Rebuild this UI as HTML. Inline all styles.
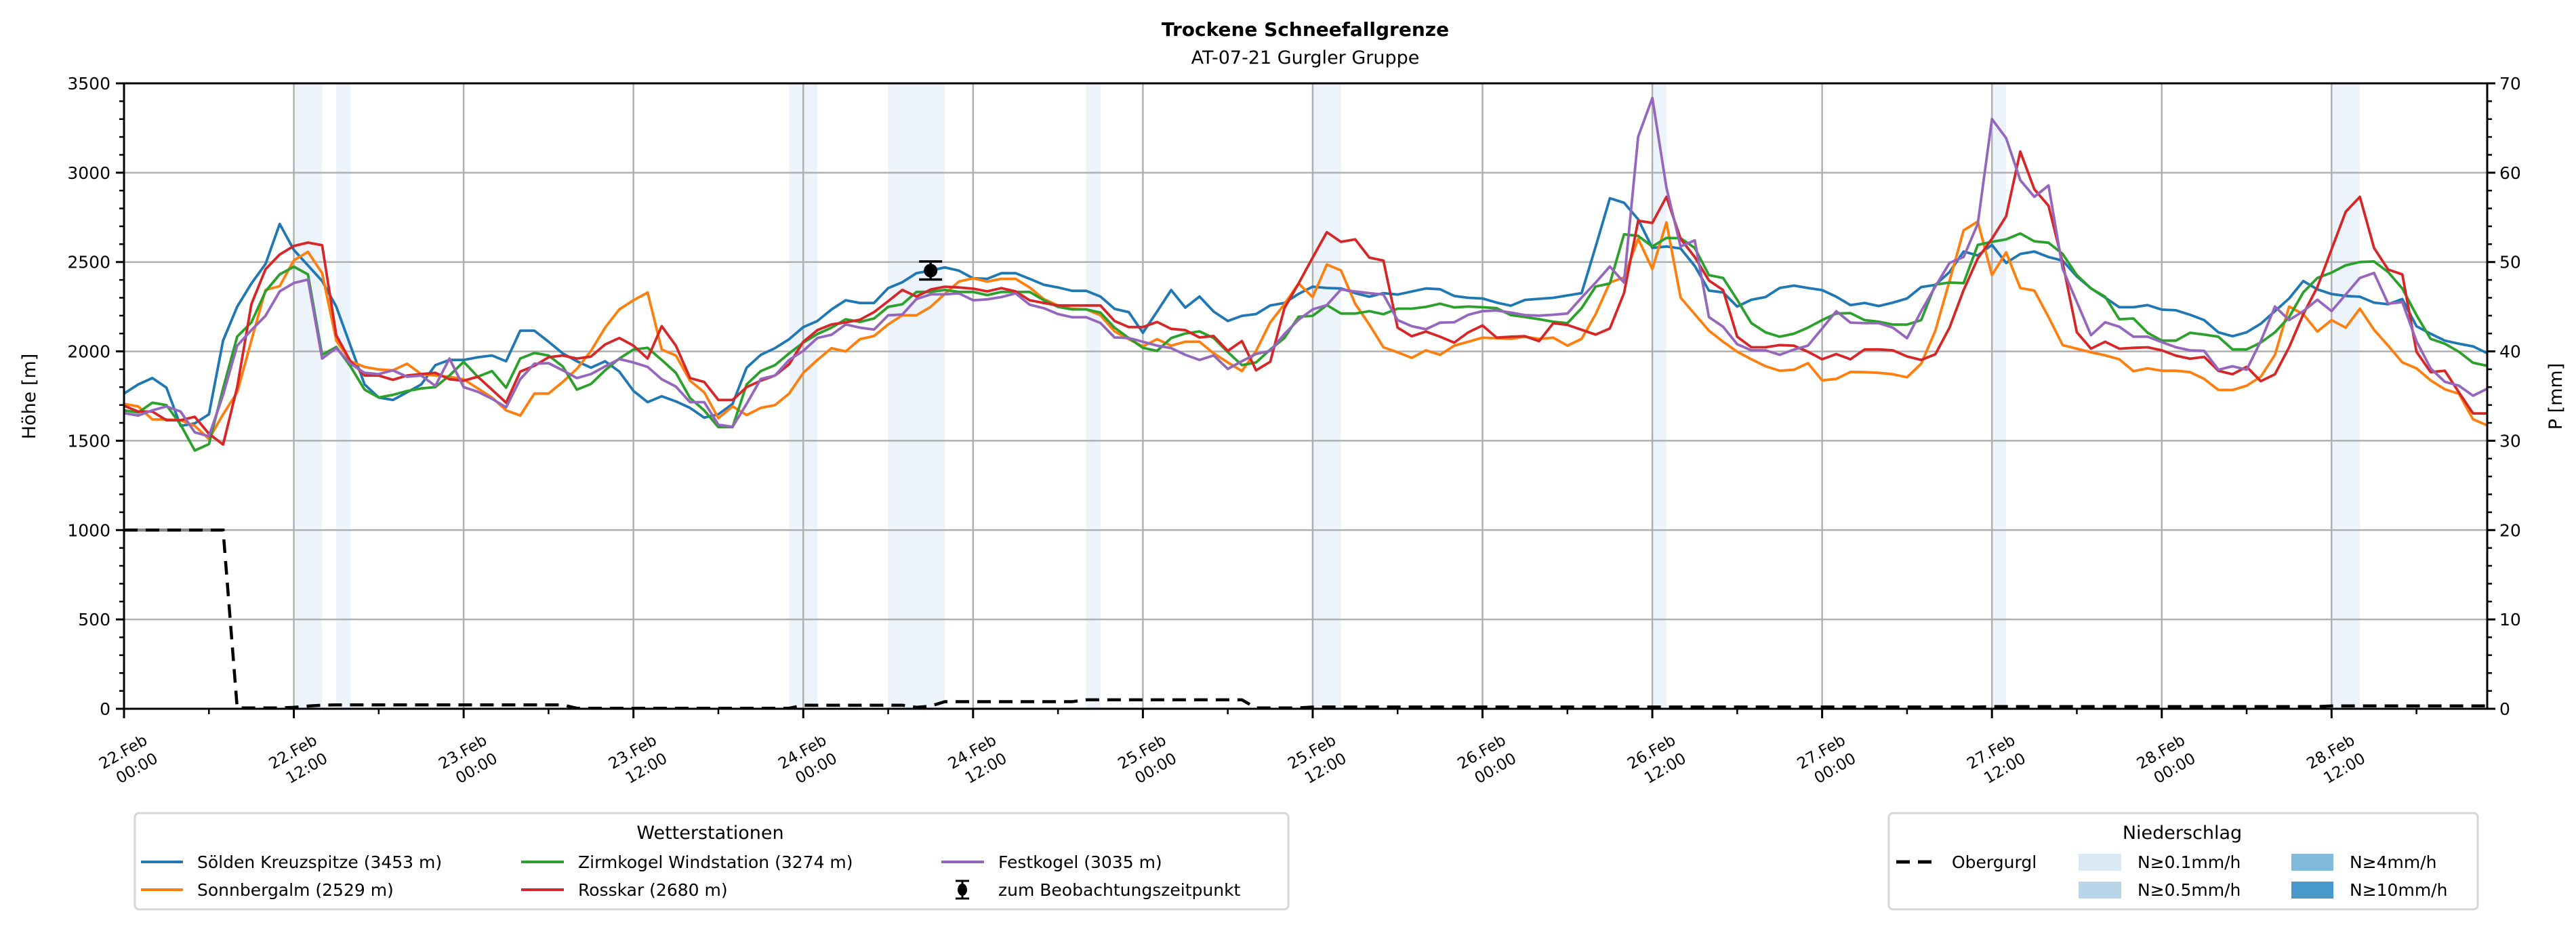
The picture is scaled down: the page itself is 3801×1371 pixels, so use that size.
<!DOCTYPE html>
<html><head><meta charset="utf-8"><style>
html,body{margin:0;padding:0;background:#fff;}
svg{display:block;font-family:"DejaVu Sans","Liberation Sans",sans-serif;}
</style></head><body>
<svg id="chart" width="3801" height="1371" viewBox="0 0 3801 1371" xmlns="http://www.w3.org/2000/svg">
<rect width="3801" height="1371" fill="#fff"/>
<text x="1926" y="53" text-anchor="middle" font-size="28" font-weight="bold">Trockene Schneefallgrenze</text>
<text x="1926" y="94" text-anchor="middle" font-size="27">AT-07-21 Gurgler Gruppe</text>
<g id="shade"></g>
<g id="grid"></g>
<g id="series"></g>
<g id="axes"></g>
<text transform="translate(52,585) rotate(-90)" text-anchor="middle" font-size="27">Höhe [m]</text>
<text transform="translate(3780,585) rotate(-90)" text-anchor="middle" font-size="27">P [mm]</text>

<g>
<rect x="199" y="1200" width="1702" height="142" rx="6" fill="#fff" stroke="#d6d6d6" stroke-width="3"/>
<text x="1048" y="1238" text-anchor="middle" font-size="27">Wetterstationen</text>
<g><line x1="208" y1="1272" x2="270" y2="1272" stroke="#1f77b4" stroke-width="4"/><text x="291" y="1281" font-size="25">Sölden Kreuzspitze (3453 m)</text></g>
<g><line x1="208" y1="1313" x2="270" y2="1313" stroke="#ff7f0e" stroke-width="4"/><text x="291" y="1322" font-size="25">Sonnbergalm (2529 m)</text></g>
<g><line x1="769" y1="1272" x2="832" y2="1272" stroke="#2ca02c" stroke-width="4"/><text x="853" y="1281" font-size="25">Zirmkogel Windstation (3274 m)</text></g>
<g><line x1="769" y1="1313" x2="832" y2="1313" stroke="#d62728" stroke-width="4"/><text x="853" y="1322" font-size="25">Rosskar (2680 m)</text></g>
<g><line x1="1389" y1="1272" x2="1452" y2="1272" stroke="#9467bd" stroke-width="4"/><text x="1473" y="1281" font-size="25">Festkogel (3035 m)</text></g>
<g><line x1="1420" y1="1300" x2="1420" y2="1326" stroke="#000" stroke-width="3"/><line x1="1410" y1="1300" x2="1430" y2="1300" stroke="#000" stroke-width="3"/><line x1="1410" y1="1326" x2="1430" y2="1326" stroke="#000" stroke-width="3"/><ellipse cx="1420" cy="1313" rx="7" ry="9"/><text x="1473" y="1322" font-size="25">zum Beobachtungszeitpunkt</text></g>
</g>

<g>
<rect x="2787" y="1200" width="869" height="142" rx="6" fill="#fff" stroke="#d6d6d6" stroke-width="3"/>
<text x="3220" y="1238" text-anchor="middle" font-size="27">Niederschlag</text>
<g><line x1="2798" y1="1272" x2="2856" y2="1272" stroke="#000" stroke-width="5" stroke-dasharray="20,12"/><text x="2880" y="1281" font-size="25">Obergurgl</text></g>
<g><rect x="3067" y="1260" width="63" height="25" fill="#d9e8f5"/><text x="3154" y="1281" font-size="25">N≥0.1mm/h</text></g>
<g><rect x="3067" y="1301" width="63" height="25" fill="#b9d5ea"/><text x="3154" y="1322" font-size="25">N≥0.5mm/h</text></g>
<g><rect x="3381" y="1260" width="62" height="25" fill="#82badb"/><text x="3467" y="1281" font-size="25">N≥4mm/h</text></g>
<g><rect x="3381" y="1301" width="62" height="25" fill="#4a98c9"/><text x="3467" y="1322" font-size="25">N≥10mm/h</text></g>
</g>
</svg>
<script>
const soelden = [1764,1815,1851,1797,1583,1597,1648,2061,2250,2380,2489,2713,2568,2481,2394,2250,2032,1815,1742,1728,1771,1815,1923,1952,1952,1967,1977,1945,2116,2116,2054,1989,1945,1909,1945,1887,1779,1716,1749,1720,1684,1629,
1648,1706,1909,1981,2018,2068,2136,2170,2235,2286,2271,2271,2354,2387,2438,2452,2470,2452,2409,2406,2438,2438,2406,2373,2358,2339,2339,2307,2238,2220,2104,2223,2343,2245,2307,2223,2170,2199,2209,2257,2271,2322,2362,
2355,2352,2326,2306,2326,2318,2335,2352,2348,2310,2300,2296,2273,2256,2288,2294,2300,2313,2326,2587,2857,2832,2739,2579,2587,2576,2478,2340,2330,2251,2289,2304,2355,2368,2355,2343,2306,2259,2271,2254,
2273,2296,2360,2372,2444,2559,2537,2596,2495,2545,2559,2528,2508,2419,2352,2301,2247,2247,2259,2234,2230,2205,2175,2107,2085,2107,2155,2225,2296,2394,2347,2321,2310,2306,2273,2264,2293,2141,2099,2060,2043,2028,1990];
const sonnbergalm = [1706,1692,1619,1619,1615,1583,1510,1648,1771,2061,2344,2365,2510,2557,2438,2061,1945,1913,1899,1894,1931,1873,1865,1858,1844,1793,1742,1670,1641,1764,1764,1829,1902,2003,2133,2235,2286,2329,2010,1977,1836,1771,
1626,1692,1644,1684,1699,1764,1880,1952,2018,2000,2068,2086,2151,2202,2202,2249,2322,2391,2409,2391,2406,2406,2358,2293,2257,2238,2235,2202,2112,2068,2028,2068,2032,2054,2054,1989,1938,1890,2003,2162,2264,2380,2304,
2486,2453,2267,2150,2023,1995,1964,2006,1981,2032,2054,2077,2074,2070,2082,2070,2077,2032,2070,2208,2385,2414,2630,2461,2722,2301,2208,2116,2054,1998,1956,1917,1892,1897,1934,1838,1846,1885,1884,1880,
1872,1855,1931,2116,2394,2677,2727,2427,2554,2355,2340,2192,2035,2015,1995,1978,1956,1889,1905,1892,1892,1884,1846,1784,1784,1808,1858,1981,2251,2208,2111,2175,2133,2239,2121,2032,1939,1905,1838,1788,1763,1620,1586];
const zirmkogel = [1670,1658,1713,1699,1590,1445,1481,1793,2083,2162,2336,2431,2474,2431,1981,2025,1916,1786,1742,1757,1778,1793,1800,1865,1942,1858,1890,1797,1960,1991,1977,1916,1786,1818,1894,1960,2010,2020,1952,1880,1739,1670,
1576,1576,1815,1890,1923,1989,2049,2097,2133,2180,2165,2184,2249,2264,2333,2333,2344,2333,2333,2315,2333,2333,2333,2286,2249,2235,2235,2217,2133,2075,2020,2003,2075,2100,2112,2075,1996,1923,1938,2010,2075,2194,2199,
2259,2212,2212,2225,2208,2239,2239,2249,2267,2246,2251,2247,2242,2203,2192,2180,2166,2158,2242,2363,2380,2655,2646,2587,2635,2633,2579,2427,2411,2289,2158,2107,2082,2099,2133,2175,2212,2214,2175,2166,
2150,2150,2175,2374,2385,2382,2596,2613,2627,2660,2616,2608,2545,2427,2352,2306,2180,2184,2104,2060,2060,2104,2094,2082,2011,2011,2049,2107,2192,2330,2411,2441,2482,2500,2503,2444,2352,2203,2070,2043,1998,1936,1919];
const rosskar = [1696,1663,1663,1615,1615,1634,1539,1479,1800,2264,2460,2542,2590,2609,2594,2090,1945,1865,1865,1841,1865,1873,1880,1844,1836,1858,1786,1713,1887,1919,1967,1977,1960,1971,2039,2075,2032,1960,2141,2032,1851,1829,
1728,1728,1800,1836,1865,1928,2054,2119,2151,2162,2177,2220,2281,2344,2307,2346,2362,2358,2351,2336,2354,2336,2286,2271,2257,2257,2257,2257,2170,2136,2136,2165,2126,2119,2078,2086,2003,2058,1894,1942,2242,2380,2525,
2667,2613,2627,2525,2508,2133,2085,2111,2082,2049,2107,2145,2077,2082,2085,2057,2158,2148,2121,2094,2128,2326,2731,2719,2865,2630,2528,2397,2343,2082,2023,2023,2035,2032,1998,1956,1985,1956,2011,2011,
2006,1972,1952,1984,2133,2343,2520,2630,2756,3118,2907,2815,2495,2107,2015,2054,2015,2020,2023,2006,1976,1959,1969,1892,1872,1914,1833,1872,2023,2208,2360,2571,2781,2865,2579,2458,2431,1998,1884,1892,1771,1653,1653];
const festkogel = [1655,1641,1670,1692,1663,1547,1525,1757,2032,2119,2199,2336,2383,2402,1960,2018,1931,1880,1873,1894,1858,1865,1807,1960,1800,1774,1735,1687,1844,1931,1934,1894,1851,1873,1916,1957,1938,1913,1844,1803,1716,1716,
1590,1578,1706,1846,1865,1952,2003,2075,2093,2151,2133,2122,2202,2206,2293,2319,2319,2325,2286,2291,2304,2325,2261,2242,2209,2191,2191,2159,2078,2075,2054,2032,2018,1981,1952,1977,1902,1945,1986,2003,2097,2177,2235,
2259,2347,2335,2326,2318,2175,2141,2124,2161,2163,2205,2225,2229,2217,2203,2200,2205,2212,2301,2385,2475,2385,3202,3418,2916,2587,2621,2192,2138,2040,2006,2006,1981,2010,2032,2128,2225,2161,2158,2158,
2133,2074,2225,2363,2495,2528,2714,3300,3194,2958,2865,2929,2461,2276,2091,2163,2138,2082,2082,2052,2023,2006,2003,1897,1917,1897,2057,2251,2175,2225,2289,2225,2318,2411,2439,2267,2276,2057,1905,1830,1808,1752,1791];
const obergurgl = [1000,1000,1000,1000,1000,1000,1000,1000,5,5,5,5,8,15,20,22,22,22,22,22,22,22,22,22,22,22,22,22,22,22,22,22,3,3,3,3,3,3,3,3,3,3,3,3,3,3,3,3,
20,20,20,20,20,20,20,20,8,15,40,40,40,40,40,40,40,40,40,40,50,50,50,50,50,50,50,50,50,50,50,50,5,5,5,5,
10,10,10,10,10,10,10,10,10,10,10,10,10,10,10,10,10,10,10,10,10,10,10,10,10,10,10,10,10,10,10,10,10,10,10,10,10,10,10,10,10,10,10,10,10,10,10,10,
12,12,12,12,12,12,12,12,12,12,12,12,12,12,12,12,12,12,12,12,12,12,12,12,16,16,16,16,16,16,16,16,16,16,16,16];
const precipStart = [12,15,47,54,68,84,108,132,156];
const precipEnd = [14,16,49,58,69,86,109,133,158];
const obsHour = [57];
const obsValue = [2452];
const obsErrLow = [2402];
const obsErrHigh = [2503];
const yTicks = [0,500,1000,1500,2000,2500,3000,3500];
const y2Ticks = [0,10,20,30,40,50,60,70];
const xTickHours = [0,12,24,36,48,60,72,84,96,108,120,132,144,156];
const xTickDays = ["22.Feb","22.Feb","23.Feb","23.Feb","24.Feb","24.Feb","25.Feb","25.Feb","26.Feb","26.Feb","27.Feb","27.Feb","28.Feb","28.Feb"];
const xTickTimes = ["00:00","12:00","00:00","12:00","00:00","12:00","00:00","12:00","00:00","12:00","00:00","12:00","00:00","12:00"];

const L=183,R=3670,T=123,B=1046,HMAX=167,VMAX=3500;
const X=h=>L+h*(R-L)/HMAX;
const Y=v=>B-v*(B-T)/VMAX;
const NS="http://www.w3.org/2000/svg";
function mk(tag,attrs,parent){const e=document.createElementNS(NS,tag);for(const k in attrs)e.setAttribute(k,attrs[k]);parent.appendChild(e);return e;}
const shade=document.getElementById('shade'),grid=document.getElementById('grid'),ser=document.getElementById('series'),axes=document.getElementById('axes');

for(let i=0;i<precipStart.length;i++){
  const r=mk('rect',{x:X(precipStart[i]),y:T,width:X(precipEnd[i])-X(precipStart[i]),height:B-T,fill:'#edf3fa'},shade);
  
  
}
yTicks.forEach(v=>{if(v>0&&v<VMAX){const g=mk('line',{x1:L,x2:R,y1:Y(v),y2:Y(v),stroke:'#b0b0b0','stroke-width':2.5},grid);}});
xTickHours.forEach(h=>{if(h>0){const g=mk('line',{x1:X(h),x2:X(h),y1:T,y2:B,stroke:'#b0b0b0','stroke-width':2.5},grid);}});

function pts(arr){return arr.map((v,i)=>X(i).toFixed(1)+','+Y(v).toFixed(1)).join(' ');}
const og1=mk('polyline',{points:pts(obergurgl.slice(0,8)),fill:'none',stroke:'#888','stroke-width':4.5},ser);


const og=mk('polyline',{points:pts(obergurgl),fill:'none',stroke:'#000','stroke-width':4.5,'stroke-dasharray':'20,12'},ser);


const seriesList=[[soelden,'#1f77b4','soelden-line'],[sonnbergalm,'#ff7f0e','sonnbergalm-line'],[zirmkogel,'#2ca02c','zirmkogel-line'],[rosskar,'#d62728','rosskar-line'],[festkogel,'#9467bd','festkogel-line']];
seriesList.forEach(s=>{
  const p=mk('polyline',{points:pts(s[0]),fill:'none',stroke:s[1],'stroke-width':3.8,'stroke-linejoin':'round'},ser);
  
  
});
for(let i=0;i<obsHour.length;i++){
  const g=mk('g',{},ser);
  
  
  const x=X(obsHour[i]);
  mk('line',{x1:x,x2:x,y1:Y(obsErrLow[i]),y2:Y(obsErrHigh[i]),stroke:'#000','stroke-width':3.5},g);
  mk('line',{x1:x-17,x2:x+17,y1:Y(obsErrLow[i]),y2:Y(obsErrLow[i]),stroke:'#000','stroke-width':3.5},g);
  mk('line',{x1:x-17,x2:x+17,y1:Y(obsErrHigh[i]),y2:Y(obsErrHigh[i]),stroke:'#000','stroke-width':3.5},g);
  mk('ellipse',{cx:x,cy:Y(obsValue[i]),rx:10,ry:10,fill:'#000'},g);
}
const fr=mk('rect',{x:L,y:T,width:R-L,height:B-T,fill:'none',stroke:'#000','stroke-width':3},axes);


yTicks.forEach(v=>{
  mk('line',{x1:L-12,x2:L,y1:Y(v),y2:Y(v),stroke:'#000','stroke-width':3},axes);
  const t=mk('text',{x:L-20,y:Y(v)+9,'text-anchor':'end','font-size':25},axes);
  t.textContent=v;
  
  
});
for(let v=100;v<VMAX;v+=100){if(v%500)mk('line',{x1:L-7,x2:L,y1:Y(v),y2:Y(v),stroke:'#000','stroke-width':2.5},axes);}
y2Ticks.forEach(v=>{
  const yy=B-v*(B-T)/70;
  mk('line',{x1:R,x2:R+12,y1:yy,y2:yy,stroke:'#000','stroke-width':3},axes);
  const t=mk('text',{x:R+18,y:yy+9,'font-size':25},axes);
  t.textContent=v;
  
  
});
for(let v=2;v<70;v+=2){if(v%10){const yy=B-v*(B-T)/70;mk('line',{x1:R,x2:R+7,y1:yy,y2:yy,stroke:'#000','stroke-width':2.5},axes);}}
for(let h=6;h<HMAX;h+=12){mk('line',{x1:X(h),x2:X(h),y1:B,y2:B+8,stroke:'#000','stroke-width':2.5},axes);}
xTickHours.forEach((h,i)=>{
  mk('line',{x1:X(h),x2:X(h),y1:B,y2:B+14,stroke:'#000','stroke-width':3},axes);
  const t=mk('text',{transform:'translate('+(X(h)+36)+',1097) rotate(-30)','text-anchor':'end','font-size':23},axes);
  
  
  const a=mk('tspan',{x:0,y:0},t);a.textContent=xTickDays[i];
  const b=mk('tspan',{x:0,y:31},t);b.textContent=xTickTimes[i];
});
</script>
</body></html>
